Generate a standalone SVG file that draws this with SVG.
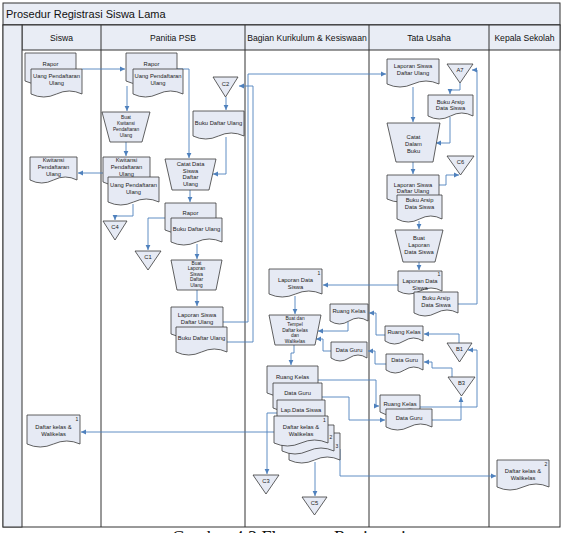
<svg xmlns="http://www.w3.org/2000/svg" width="567" height="533" viewBox="0 0 567 533">
<style>
.fr{fill:#E9EDF5;stroke:#333;stroke-width:1}
.ln{stroke:#333;stroke-width:1;fill:none}
.d{fill:#E6EAF4;stroke:#3a3a3a;stroke-width:0.8}
.c{fill:none;stroke:#4F81BD;stroke-width:0.9;marker-end:url(#a)}
.t{font-family:"Liberation Sans",Arial,sans-serif;font-size:5.8px;fill:#222;text-anchor:middle}
.s{font-size:4.8px}
.h{font-family:"Liberation Sans",Arial,sans-serif;font-size:8.6px;fill:#111;text-anchor:middle}
</style>
<defs>
<marker id="a" markerWidth="6" markerHeight="6" refX="5" refY="3" orient="auto" markerUnits="userSpaceOnUse"><path d="M0,0.6 L5,3 L0,5.4 Z" fill="#4F81BD"/></marker>
</defs>
<rect width="567" height="533" fill="#fff"/>
<g id="frame">
<rect class="fr" x="3" y="3" width="557" height="22"/>
<rect x="3" y="25" width="557" height="502" fill="#fff" stroke="#333"/>
<rect class="fr" x="22" y="25" width="538" height="25"/>
<rect class="fr" x="3" y="25" width="19" height="502"/>
<path class="ln" d="M101,25V527M245,25V527M369,25V527M489,25V527"/>
<text x="6" y="18" font-family="Liberation Sans,Arial,sans-serif" font-size="11" fill="#111">Prosedur Registrasi Siswa Lama</text>
<text class="h" x="61.5" y="41">Siswa</text>
<text class="h" x="173" y="41">Panitia PSB</text>
<text class="h" x="307" y="41">Bagian Kurikulum &amp; Kesiswaan</text>
<text class="h" x="429" y="41">Tata Usaha</text>
<text class="h" x="524.5" y="41">Kepala Sekolah</text>
</g>
<g id="connectors">
<path class="c" d="M82,69H125"/>
<path class="c" d="M177,69H189V158"/>
<path class="c" d="M127,86V111"/>
<path class="c" d="M126,142V156"/>
<path class="c" d="M103,173H78"/>
<path class="c" d="M133,204V216H115V220"/>
<path class="c" d="M165,218H148V250"/>
<path class="c" d="M190,190V202"/>
<path class="c" d="M226,97V110"/>
<path class="c" d="M226,137V174H213"/>
<path class="c" d="M197,244V259"/>
<path class="c" d="M197,290V306"/>
<path class="c" d="M223,322H248V74H386"/>
<path class="c" d="M227,342H253V86H239"/>
<path class="c" d="M413,87V122"/>
<path class="c" d="M460,83V90H450V94"/>
<path class="c" d="M450,117V143H436"/>
<path class="c" d="M413,162V174"/>
<path class="c" d="M439,185H446V175H459"/>
<path class="c" d="M419,221V229"/>
<path class="c" d="M419,262V270"/>
<path class="c" d="M458,304H477V70H472"/>
<path class="c" d="M398,285H323"/>
<path class="c" d="M295,296V314"/>
<path class="c" d="M385,335H376V313H369"/>
<path class="c" d="M386,364H375V351H368"/>
<path class="c" d="M348,322V331H318"/>
<path class="c" d="M331,351H323V339H316"/>
<path class="c" d="M294,345V353H291V365"/>
<path class="c" d="M318,380H376V406H379"/>
<path class="c" d="M322,397H349V420H385"/>
<path class="c" d="M277,413H267V474"/>
<path class="c" d="M274,432H81"/>
<path class="c" d="M315,462V496"/>
<path class="c" d="M340,449V476H496"/>
<path class="c" d="M459,343V334H424"/>
<path class="c" d="M420,407H477V350H468"/>
<path class="c" d="M452,377V368H432V362H424"/>
<path class="c" d="M432,420H461V397"/>
</g>
<g id="siswa-rapor">
<path class="d" transform="translate(25,53)" d="M0,0H51V28Q38.25,22 25.5,28T0,28Z"/>
<text class="t" x="50.5" y="66">Rapor</text>
</g>
<g id="siswa-uang">
<path class="d" transform="translate(31,69)" d="M0,0H51V25Q38.25,19 25.5,25T0,25Z"/>
<text class="t" x="56.5" y="78">Uang Pendaftaran</text>
<text class="t" x="56.5" y="85">Ulang</text>
</g>
<g id="siswa-kwitansi">
<path class="d" transform="translate(30,157)" d="M0,0H47V23Q35.25,17 23.5,23T0,23Z"/>
<text class="t" x="53.5" y="162">Kwitansi</text>
<text class="t" x="53.5" y="169">Pendaftaran</text>
<text class="t" x="53.5" y="176">Ulang</text>
</g>
<g id="siswa-daftar">
<path class="d" transform="translate(27,415)" d="M0,0H53V29Q39.75,23 26.5,29T0,29Z"/>
<text class="t" x="77" y="421" style="font-size:5px">1</text>
<text class="t" x="53.5" y="429">Daftar kelas &amp;</text>
<text class="t" x="53.5" y="436">Walikelas</text>
</g>
<g id="psb-rapor">
<path class="d" transform="translate(126,53)" d="M0,0H51V28Q38.25,22 25.5,28T0,28Z"/>
<text class="t" x="151.5" y="66">Rapor</text>
</g>
<g id="psb-uang">
<path class="d" transform="translate(133,69)" d="M0,0H50V25Q37.5,19 25,25T0,25Z"/>
<text class="t" x="158" y="78">Uang Pendaftaran</text>
<text class="t" x="158" y="85">Ulang</text>
</g>
<g id="psb-buat-kwitansi">
<path class="d" d="M102,112H150L142,142H110Z"/>
<text class="t s" x="126" y="119">Buat</text>
<text class="t s" x="126" y="125">Kwitansi</text>
<text class="t s" x="126" y="131">Pendaftaran</text>
<text class="t s" x="126" y="137">Ulang</text>
</g>
<g id="psb-kwitansi">
<path class="d" transform="translate(103,157)" d="M0,0H47V25Q35.25,19 23.5,25T0,25Z"/>
<text class="t" x="126.5" y="162">Kwitansi</text>
<text class="t" x="126.5" y="169">Pendaftaran</text>
<text class="t" x="126.5" y="176">Ulang</text>
</g>
<g id="psb-uang2">
<path class="d" transform="translate(108,177)" d="M0,0H51V25Q38.25,19 25.5,25T0,25Z"/>
<text class="t" x="133.5" y="187">Uang Pendaftaran</text>
<text class="t" x="133.5" y="194">Ulang</text>
</g>
<g id="c4">
<path class="d" d="M103,221H127L115,240Z"/>
<text class="t" x="115" y="229">C4</text>
</g>
<g id="c1">
<path class="d" d="M135,251H161L148,270Z"/>
<text class="t" x="148" y="259">C1</text>
</g>
<g id="c2">
<path class="d" d="M213,77H238L225.5,97Z"/>
<text class="t" x="225.5" y="86">C2</text>
</g>
<g id="psb-buku">
<path class="d" transform="translate(193,111)" d="M0,0H51V25Q38.25,19 25.5,25T0,25Z"/>
<text class="t" x="218.5" y="125">Buku Daftar Ulang</text>
</g>
<g id="psb-catat">
<path class="d" d="M165,159H216L209,190H172Z"/>
<text class="t" x="190.5" y="166">Catat Data</text>
<text class="t" x="190.5" y="172.5">Siswa</text>
<text class="t" x="190.5" y="179">Daftar</text>
<text class="t" x="190.5" y="185.5">Ulang</text>
</g>
<g id="psb-rapor2">
<path class="d" transform="translate(165,203)" d="M0,0H51V27Q38.25,21 25.5,27T0,27Z"/>
<text class="t" x="190.5" y="215">Rapor</text>
</g>
<g id="psb-buku2">
<path class="d" transform="translate(171,218)" d="M0,0H51V24Q38.25,18 25.5,24T0,24Z"/>
<text class="t" x="196.5" y="231">Buku Daftar Ulang</text>
</g>
<g id="psb-buat-laporan">
<path class="d" d="M171,260H222L216,290H177Z"/>
<text class="t s" x="196.5" y="264.5">Buat</text>
<text class="t s" x="196.5" y="270">Laporan</text>
<text class="t s" x="196.5" y="275.5">Siswa</text>
<text class="t s" x="196.5" y="281">Daftar</text>
<text class="t s" x="196.5" y="286.5">Ulang</text>
</g>
<g id="psb-laporan">
<path class="d" transform="translate(171,307)" d="M0,0H52V27Q39,21 26,27T0,27Z"/>
<text class="t" x="197" y="317">Laporan Siswa</text>
<text class="t" x="197" y="324">Daftar Ulang</text>
</g>
<g id="psb-buku3">
<path class="d" transform="translate(176,327)" d="M0,0H51V25Q38.25,19 25.5,25T0,25Z"/>
<text class="t" x="201.5" y="340">Buku Daftar Ulang</text>
</g>
<g id="bk-laporan">
<path class="d" transform="translate(269,269)" d="M0,0H53V25Q39.75,19 26.5,25T0,25Z"/>
<text class="t" x="319" y="275" style="font-size:5px">1</text>
<text class="t" x="295.5" y="282">Laporan Data</text>
<text class="t" x="295.5" y="289">Siswa</text>
</g>
<g id="bk-buat">
<path class="d" d="M269,315H321L315,345H275Z"/>
<text class="t s" x="295" y="320">Buat dan</text>
<text class="t s" x="295" y="325.8">Tempel</text>
<text class="t s" x="295" y="331.6">Daftar kelas</text>
<text class="t s" x="295" y="337.4">dan</text>
<text class="t s" x="295" y="343.2">Walikelas</text>
</g>
<g id="bk-ruang">
<path class="d" transform="translate(330,304)" d="M0,0H38V17Q28.5,11 19,17T0,17Z"/>
<text class="t" x="349" y="313">Ruang Kelas</text>
</g>
<g id="bk-guru">
<path class="d" transform="translate(331,342)" d="M0,0H36V16Q27,10 18,16T0,16Z"/>
<text class="t" x="349" y="351.5">Data Guru</text>
</g>
<g id="bk-ruang2">
<path class="d" transform="translate(267,366)" d="M0,0H51V27Q38.25,21 25.5,27T0,27Z"/>
<text class="t" x="292.5" y="379">Ruang Kelas</text>
</g>
<g id="bk-guru2">
<path class="d" transform="translate(273,383)" d="M0,0H49V25Q36.75,19 24.5,25T0,25Z"/>
<text class="t" x="297.5" y="395">Data Guru</text>
</g>
<g id="bk-lap">
<path class="d" transform="translate(277,400)" d="M0,0H48V24Q36,18 24,24T0,24Z"/>
<text class="t" x="301" y="411.5">Lap.Data Siswa</text>
</g>
<g id="bk-daftar3">
<path class="d" transform="translate(289,433)" d="M0,0H51V27Q38.25,21 25.5,27T0,27Z"/>
<text class="t" x="337" y="448" style="font-size:5px">3</text>
</g>
<g id="bk-daftar2">
<path class="d" transform="translate(282,425)" d="M0,0H52V26Q39,20 26,26T0,26Z"/>
<text class="t" x="331" y="439" style="font-size:5px">2</text>
</g>
<g id="bk-daftar1">
<path class="d" transform="translate(274,416)" d="M0,0H54V27Q40.5,21 27,27T0,27Z"/>
<text class="t" x="324.5" y="422" style="font-size:5px">1</text>
<text class="t" x="301" y="429">Daftar kelas &amp;</text>
<text class="t" x="301" y="436">Walikelas</text>
</g>
<g id="c3">
<path class="d" d="M253,475H279L266,494Z"/>
<text class="t" x="266" y="483">C3</text>
</g>
<g id="c5">
<path class="d" d="M302,497H327L314.5,515Z"/>
<text class="t" x="314.5" y="505">C5</text>
</g>
<g id="tu-laporan">
<path class="d" transform="translate(387,59)" d="M0,0H52V25Q39,19 26,25T0,25Z"/>
<text class="t" x="413" y="68">Laporan Siswa</text>
<text class="t" x="413" y="75">Daftar Ulang</text>
</g>
<g id="a7">
<path class="d" d="M447,64H473L460,83Z"/>
<text class="t" x="460" y="72">A7</text>
</g>
<g id="tu-buku">
<path class="d" transform="translate(428,95)" d="M0,0H45V21Q33.75,15 22.5,21T0,21Z"/>
<text class="t" x="450.5" y="104">Buku Arsip</text>
<text class="t" x="450.5" y="110">Data Siswa</text>
</g>
<g id="tu-catat">
<path class="d" d="M387,123H440L433,162H396Z"/>
<text class="t" x="413.5" y="139">Catat</text>
<text class="t" x="413.5" y="146">Dalam</text>
<text class="t" x="413.5" y="153">Buku</text>
</g>
<g id="c6">
<path class="d" d="M447,156H474L460.5,175Z"/>
<text class="t" x="460.5" y="164">C6</text>
</g>
<g id="tu-laporan2">
<path class="d" transform="translate(387,175)" d="M0,0H52V24Q39,18 26,24T0,24Z"/>
<text class="t" x="413" y="187">Laporan Siswa</text>
<text class="t" x="413" y="193">Daftar Ulang</text>
</g>
<g id="tu-buku2">
<path class="d" transform="translate(397,195)" d="M0,0H45V24Q33.75,18 22.5,24T0,24Z"/>
<text class="t" x="419.5" y="202">Buku Arsip</text>
<text class="t" x="419.5" y="209">Data Siswa</text>
</g>
<g id="tu-buat">
<path class="d" d="M395,230H443L435,262H403Z"/>
<text class="t" x="419" y="240">Buat</text>
<text class="t" x="419" y="247">Laporan</text>
<text class="t" x="419" y="254">Data Siswa</text>
</g>
<g id="tu-lapdata">
<path class="d" transform="translate(398,271)" d="M0,0H44V20Q33,14 22,20T0,20Z"/>
<text class="t" x="439" y="276" style="font-size:5px">1</text>
<text class="t" x="420" y="283">Laporan Data</text>
<text class="t" x="420" y="290">Siswa</text>
</g>
<g id="tu-buku3">
<path class="d" transform="translate(414,292)" d="M0,0H44V21Q33,15 22,21T0,21Z"/>
<text class="t" x="436" y="300">Buku Arsip</text>
<text class="t" x="436" y="307">Data Siswa</text>
</g>
<g id="tu-ruang">
<path class="d" transform="translate(385,326)" d="M0,0H38V15Q28.5,9 19,15T0,15Z"/>
<text class="t" x="404" y="334">Ruang Kelas</text>
</g>
<g id="b1">
<path class="d" d="M447,343H472L459.5,362Z"/>
<text class="t" x="459.5" y="351">B1</text>
</g>
<g id="tu-guru">
<path class="d" transform="translate(386,354)" d="M0,0H37V16Q27.75,10 18.5,16T0,16Z"/>
<text class="t" x="404.5" y="362">Data Guru</text>
</g>
<g id="b3">
<path class="d" d="M448,377H475L461.5,396Z"/>
<text class="t" x="461.5" y="385">B3</text>
</g>
<g id="tu-ruang2">
<path class="d" transform="translate(380,395)" d="M0,0H40V17Q30,11 20,17T0,17Z"/>
<text class="t" x="400" y="406">Ruang Kelas</text>
</g>
<g id="tu-guru2">
<path class="d" transform="translate(386,409)" d="M0,0H46V18Q34.5,12 23,18T0,18Z"/>
<text class="t" x="409" y="420">Data Guru</text>
</g>
<g id="kepsek-daftar">
<path class="d" transform="translate(497,460)" d="M0,0H52V27Q39,21 26,27T0,27Z"/>
<text class="t" x="546" y="466" style="font-size:5px">2</text>
<text class="t" x="523" y="473">Daftar kelas &amp;</text>
<text class="t" x="523" y="480">Walikelas</text>
</g>
<text x="172" y="544" font-family="Liberation Serif,Times New Roman,serif" font-size="18" fill="#111">Gambar 4.3 Flowmap Registrasi</text>
</svg>
